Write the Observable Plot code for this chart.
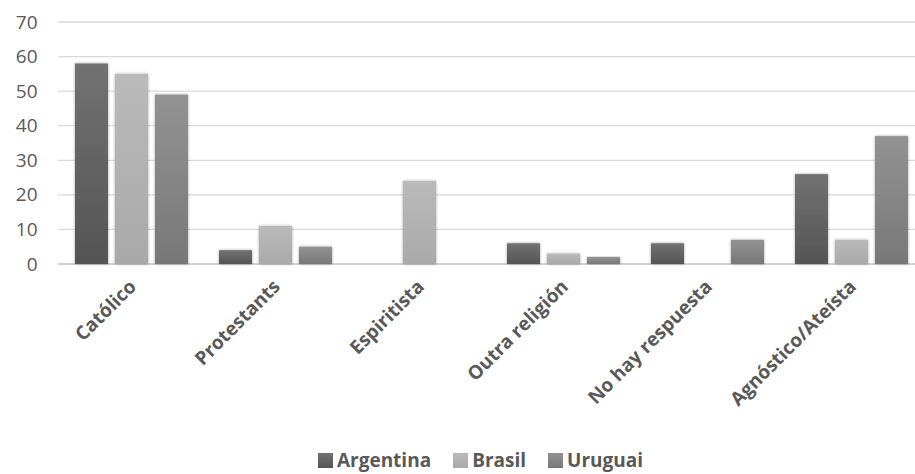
<!DOCTYPE html>
<html>
<head>
<meta charset="utf-8">
<script src="https://cdn.jsdelivr.net/npm/d3@7"></script>
<script src="https://cdn.jsdelivr.net/npm/@observablehq/plot@0.6"></script>
<style>
  html, body { margin: 0; padding: 0; background: #fff; overflow: hidden; }
  #chart { width: 915px; height: 474px; position: relative; }
  #chart svg { display: block; overflow: hidden; }
  .legend { position: absolute; left: 0; top: 447px; width: 915px; display: flex; justify-content: center;
    font-family: "Open Sans", sans-serif; font-weight: bold; font-size: 19px; color: #595959; padding-left: 46px; box-sizing: border-box; }
  .legend span.item { display: inline-flex; align-items: center; margin: 0 11px; }
  .legend span.sw { width: 15px; height: 15px; display: inline-block; margin-right: 4px; }
</style>
</head>
<body>
<div id="chart"></div>
<script>
const categories = ["Católico", "Protestants", "Espiritista", "Outra religión", "No hay respuesta", "Agnóstico/Ateísta"];
const countries = ["Argentina", "Brasil", "Uruguai"];
const argentina = [58, 4, 0, 6, 6, 26];
const brasil = [55, 11, 24, 3, 0, 7];
const uruguai = [49, 5, 0, 2, 7, 37];
const yTicks = [0, 10, 20, 30, 40, 50, 60, 70];

const gradients = {
  Argentina: ["#727272", "#545454"],
  Brasil: ["#bababa", "#a9a9a9"],
  Uruguai: ["#929292", "#787878"]
};
const gradIds = {Argentina: "gA", Brasil: "gB", Uruguai: "gU"};

const series = {Argentina: argentina, Brasil: brasil, Uruguai: uruguai};
const data = [];
categories.forEach((c, i) => {
  countries.forEach(k => {
    if (series[k][i] > 0) data.push({category: c, country: k, value: series[k][i]});
  });
});

const W = 915, H = 445, ML = 58, MR = -9, MT = 22, MB = 181;

const plot = Plot.plot({
  width: W,
  height: H,
  marginLeft: ML,
  marginRight: MR,
  marginTop: MT,
  marginBottom: MB,
  style: {fontFamily: "'Open Sans', sans-serif", color: "#595959", background: "#fff"},
  fx: {domain: categories, paddingInner: 0.217, paddingOuter: 0.1085, label: null},
  x: {domain: countries, paddingInner: 0.175, paddingOuter: 0, axis: null},
  y: {domain: [0, 70], label: null},
  color: {domain: countries, range: countries.map(k => `url(#${gradIds[k]})`)},
  marks: [
    Plot.barY(data, {fx: "category", x: "country", y: "value", fill: "country"}),
    Plot.axisY({ticks: yTicks, tickSize: 0, tickPadding: 23, dx: -15, fill: "#595959", label: null}),
    Plot.axisFx({anchor: "bottom", tickRotate: -45, tickSize: 0, tickPadding: 19, dx: 1, fill: "#595959", label: null})
  ]
});

const svg = d3.select(plot);
const yLabels = new Set(yTicks.map(String));
const catLabels = new Set(categories);
svg.selectAll("text").each(function() {
  const t = this.textContent.trim();
  if (yLabels.has(t)) d3.select(this).attr("font-size", 19).style("font-size", "19px", "important");
  else if (catLabels.has(t)) d3.select(this).attr("font-size", 19).style("font-size", "19px", "important").style("font-weight", "bold");
});

const defs = svg.insert("defs", ":first-child");
for (const k of countries) {
  const g = defs.append("linearGradient").attr("id", gradIds[k]).attr("x1", 0).attr("y1", 0).attr("x2", 0).attr("y2", 1);
  g.append("stop").attr("offset", "0%").attr("stop-color", gradients[k][0]);
  g.append("stop").attr("offset", "100%").attr("stop-color", gradients[k][1]);
}
const f = defs.append("filter").attr("id", "shadow").attr("x", "-30%").attr("y", "-10%").attr("width", "160%").attr("height", "120%");
f.append("feDropShadow").attr("dx", 0).attr("dy", 0).attr("stdDeviation", 1.6).attr("flood-color", "#000").attr("flood-opacity", 0.35);

// full-width gridlines drawn from the plot's own y scale
const y = plot.scale("y");
const grid = svg.insert("g", "defs + *").attr("aria-label", "grid");
for (const t of yTicks) {
  const yy = y.apply(t);
  grid.append("line").attr("x1", ML).attr("x2", W - MR).attr("y1", yy).attr("y2", yy)
    .attr("stroke", t === 0 ? "#d0d0d0" : "#d9d9d9").attr("stroke-width", t === 0 ? 2.2 : 1.3);
}
svg.selectAll("g[aria-label='bar'] rect").attr("filter", "url(#shadow)");
document.getElementById("chart").appendChild(plot);

const legend = d3.select("#chart").append("div").attr("class", "legend");
for (const k of countries) {
  const it = legend.append("span").attr("class", "item");
  it.append("span").attr("class", "sw").style("background", `linear-gradient(${gradients[k][0]}, ${gradients[k][1]})`);
  it.append("span").text(k);
}
</script>
</body>
</html>
